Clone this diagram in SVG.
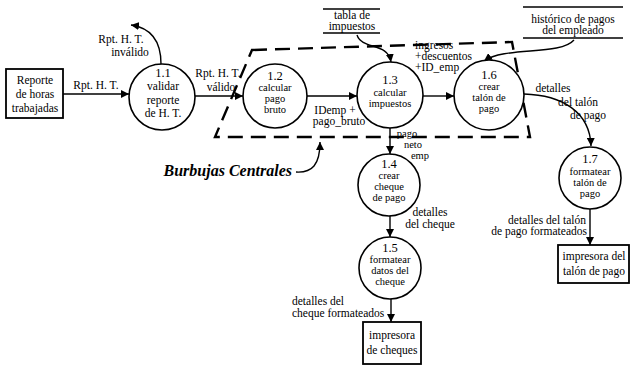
<svg xmlns="http://www.w3.org/2000/svg" width="631" height="365" viewBox="0 0 631 365">
  <style>
    .bub{fill:#fff;stroke:#000;stroke-width:1.6}
    .box{fill:#fff;stroke:#000;stroke-width:1.8}
    .st{stroke:#000;stroke-width:1.6}
    .t{font-family:"Liberation Serif","Times New Roman",serif;font-size:11.5px;fill:#000;text-anchor:middle}
    .s{font-size:10.5px}
    .big{font-size:12.5px}
    .l{text-anchor:start}
    .r{text-anchor:end}
    .fl{fill:none;stroke:#000;stroke-width:1.4}
    .bound{fill:none;stroke:#000;stroke-width:2.4;stroke-dasharray:15 8}
    .cap{font-family:"Liberation Serif","Times New Roman",serif;font-size:16px;font-style:italic;font-weight:bold;fill:#000;text-anchor:end}
  </style>
  <defs>
    <marker id="ah" markerUnits="userSpaceOnUse" markerWidth="9" markerHeight="8" refX="8" refY="4" orient="auto">
      <path d="M0,0 L8,4 L0,8 z" fill="#000"/>
    </marker>
  </defs>

  <rect width="631" height="365" fill="#fff"/>

  <!-- central bubbles boundary -->
  <polygon class="bound" points="252,50 512,42 530,137 215,137"/>
  <text class="cap" x="292" y="176">Burbujas Centrales</text>

  <!-- data flows -->
  <g id="connectors">
    <line class="fl" x1="63" y1="94" x2="129" y2="94" marker-end="url(#ah)"/>
    <text class="t" x="96" y="89">Rpt. H. T.</text>

    <path class="fl" d="M161,64 C161,42 152,28 131,25" marker-end="url(#ah)"/>
    <text class="t" x="121" y="43">Rpt. H. T.</text>
    <text class="t" x="130" y="56">inválido</text>

    <line class="fl" x1="195" y1="96" x2="243" y2="96" marker-end="url(#ah)"/>
    <text class="t" x="218" y="77">Rpt. H. T.</text>
    <text class="t" x="221" y="91">válido</text>

    <line class="fl" x1="307" y1="96" x2="357" y2="96" marker-end="url(#ah)"/>
    <text class="t" x="335" y="114">IDemp +</text>
    <text class="t" x="339" y="125">pago_bruto</text>

    <line class="fl" x1="423" y1="96" x2="454" y2="96" marker-end="url(#ah)"/>
    <text class="t l" x="415" y="49">ingresos</text>
    <text class="t l" x="415" y="60">+descuentos</text>
    <text class="t l" x="415" y="71">+ID_emp</text>

    <path class="fl" d="M357,35 C362,50 388,42 391,62" marker-end="url(#ah)"/>
    <path class="fl" d="M574,40 C560,56 505,46 484,61" marker-end="url(#ah)"/>

    <path class="fl" d="M524,94 C562,95 590,112 591,146" marker-end="url(#ah)"/>
    <text class="t" x="553" y="92">detalles</text>
    <text class="t" x="578" y="106">del talón</text>
    <text class="t" x="588" y="119">de pago</text>

    <line class="fl" x1="390" y1="128" x2="390" y2="154" marker-end="url(#ah)"/>
    <text class="t s" x="407" y="137">pago</text>
    <text class="t s" x="413" y="148">neto</text>
    <text class="t s" x="420" y="159">emp</text>

    <line class="fl" x1="390" y1="216" x2="390" y2="237" marker-end="url(#ah)"/>
    <text class="t" x="430" y="216">detalles</text>
    <text class="t" x="430" y="228">del cheque</text>

    <line class="fl" x1="391" y1="299" x2="391" y2="322" marker-end="url(#ah)"/>
    <text class="t l" x="292" y="305">detalles del</text>
    <text class="t l" x="292" y="317">cheque formateados</text>

    <line class="fl" x1="590" y1="209" x2="590" y2="245" marker-end="url(#ah)"/>
    <text class="t r" x="586" y="224">detalles del talón</text>
    <text class="t r" x="587" y="235">de pago formateados</text>

    <path class="fl" d="M296,172 C312,173 320,165 320,142" marker-end="url(#ah)"/>
  </g>

  <!-- external entities -->
  <g id="ext_reporte">
    <rect class="box" x="6" y="69" width="57" height="49"/>
    <text class="t" x="35" y="84">Reporte</text>
    <text class="t" x="35" y="98">de horas</text>
    <text class="t" x="35" y="112">trabajadas</text>
  </g>
  <g id="ext_impresora_cheques">
    <rect class="box" x="363" y="322" width="58" height="42"/>
    <text class="t" x="392" y="339">impresora</text>
    <text class="t" x="392" y="354">de cheques</text>
  </g>
  <g id="ext_impresora_talon">
    <rect class="box" x="558" y="245" width="71" height="38"/>
    <text class="t" x="594" y="260">impresora del</text>
    <text class="t" x="594" y="275">talón de pago</text>
  </g>

  <!-- data stores -->
  <g id="store_tabla">
    <line class="st" x1="323" y1="9" x2="380" y2="9"/>
    <line class="st" x1="323" y1="33" x2="380" y2="33"/>
    <text class="t" x="352" y="19">tabla de</text>
    <text class="t" x="352" y="30">impuestos</text>
  </g>
  <g id="store_historico">
    <line class="st" x1="523" y1="7" x2="623" y2="7"/>
    <line class="st" x1="523" y1="38" x2="623" y2="38"/>
    <text class="t" x="573" y="23">histórico de pagos</text>
    <text class="t" x="573" y="34">del empleado</text>
  </g>

  <!-- processes -->
  <g id="p1_1">
    <circle class="bub" cx="162" cy="97" r="33"/>
    <text class="t big" x="163" y="77">1.1</text>
    <text class="t" x="163" y="90">validar</text>
    <text class="t" x="163" y="104">reporte</text>
    <text class="t" x="163" y="117">de H. T.</text>
  </g>
  <g id="p1_2">
    <circle class="bub" cx="275" cy="96" r="32"/>
    <text class="t big" x="275" y="80">1.2</text>
    <text class="t s" x="275" y="91">calcular</text>
    <text class="t s" x="275" y="102">pago</text>
    <text class="t s" x="275" y="113">bruto</text>
  </g>
  <g id="p1_3">
    <circle class="bub" cx="390" cy="95" r="33"/>
    <text class="t big" x="390" y="84">1.3</text>
    <text class="t s" x="390" y="96">calcular</text>
    <text class="t s" x="390" y="107">impuestos</text>
  </g>
  <g id="p1_6">
    <circle class="bub" cx="489" cy="95" r="35"/>
    <text class="t big" x="489" y="79">1.6</text>
    <text class="t s" x="489" y="90">crear</text>
    <text class="t s" x="489" y="101">talón de</text>
    <text class="t s" x="489" y="112">pago</text>
  </g>
  <g id="p1_4">
    <circle class="bub" cx="389" cy="185" r="31"/>
    <text class="t big" x="389" y="168">1.4</text>
    <text class="t s" x="389" y="179">crear</text>
    <text class="t s" x="389" y="190">cheque</text>
    <text class="t s" x="389" y="201">de pago</text>
  </g>
  <g id="p1_5">
    <circle class="bub" cx="390" cy="268" r="31"/>
    <text class="t big" x="390" y="252">1.5</text>
    <text class="t s" x="390" y="263">formatear</text>
    <text class="t s" x="390" y="274">datos del</text>
    <text class="t s" x="390" y="285">cheque</text>
  </g>
  <g id="p1_7">
    <circle class="bub" cx="590" cy="178" r="31"/>
    <text class="t big" x="590" y="163">1.7</text>
    <text class="t s" x="590" y="175">formatear</text>
    <text class="t s" x="590" y="186">talón de</text>
    <text class="t s" x="590" y="197">pago</text>
  </g>
</svg>
